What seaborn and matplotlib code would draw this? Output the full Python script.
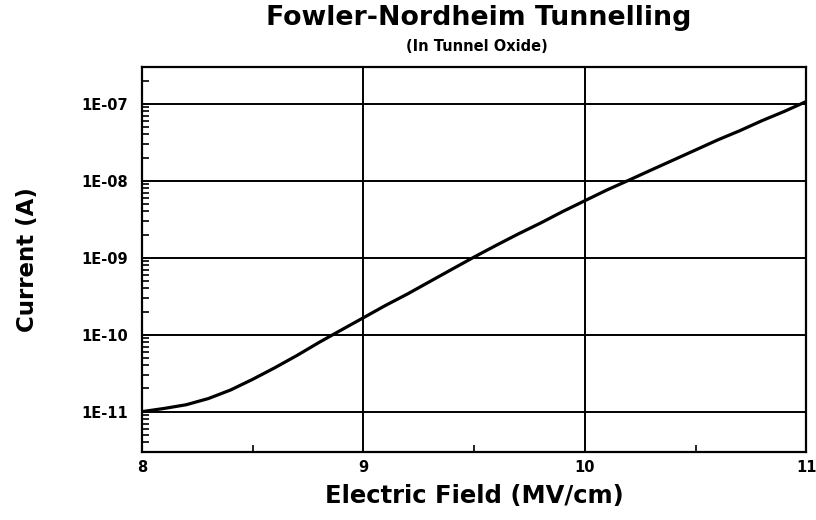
import numpy as np
import pandas as pd
import matplotlib
matplotlib.use("Agg")
import matplotlib.pyplot as plt
import matplotlib.ticker as mticker
import seaborn as sns

# Fowler-Nordheim current vs. applied field in the tunnel oxide
field_mv_cm = [8.0, 8.1, 8.2, 8.3, 8.4, 8.5, 8.6, 8.7, 8.8, 8.9,
               9.0, 9.1, 9.2, 9.3, 9.4, 9.5, 9.6, 9.7, 9.8, 9.9,
               10.0, 10.1, 10.2, 10.3, 10.4, 10.5, 10.6, 10.7, 10.8, 10.9, 11.0]
current_a = [1.00e-11, 1.10e-11, 1.23e-11, 1.48e-11, 1.91e-11, 2.63e-11,
             3.72e-11, 5.37e-11, 7.94e-11, 1.15e-10,
             1.66e-10, 2.40e-10, 3.39e-10, 4.90e-10, 7.08e-10, 1.02e-9,
             1.45e-9, 2.04e-9, 2.82e-9, 3.98e-9,
             5.50e-9, 7.59e-9, 1.02e-8, 1.38e-8, 1.86e-8, 2.51e-8,
             3.39e-8, 4.47e-8, 6.03e-8, 7.94e-8, 1.07e-7]

x_ticks = [8, 9, 10, 11]
x_tick_labels = ["8", "9", "10", "11"]
y_ticks = [1e-11, 1e-10, 1e-9, 1e-8, 1e-7]
y_tick_labels = ["1E-11", "1E-10", "1E-09", "1E-08", "1E-07"]

df = pd.DataFrame({"field": field_mv_cm, "current": current_a})

sns.set_style("white")
plt.rcParams["font.family"] = ["DejaVu Sans"]
plt.rcParams["font.weight"] = "bold"
plt.rcParams["text.color"] = "black"
plt.rcParams["axes.labelcolor"] = "black"
plt.rcParams["xtick.color"] = "black"
plt.rcParams["ytick.color"] = "black"

fig = plt.figure(figsize=(8.16, 5.2), dpi=100)
ax = fig.add_axes([0.174, 0.131, 0.814, 0.740])

sns.lineplot(data=df, x="field", y="current", ax=ax, color="black",
             linewidth=2.3, zorder=3)

ax.set_yscale("log")
ax.set_xlim(8, 11)
ax.set_ylim(3e-12, 3e-7)

ax.set_xticks(x_ticks)
ax.set_xticklabels(x_tick_labels, fontsize=10.5, fontweight="bold")
ax.set_yticks(y_ticks)
ax.set_yticklabels(y_tick_labels, fontsize=10.5, fontweight="bold")

ax.xaxis.set_minor_locator(mticker.FixedLocator([8.5, 9.5, 10.5]))
ax.yaxis.set_minor_locator(mticker.LogLocator(base=10, subs=np.arange(2, 10)))
ax.yaxis.set_minor_formatter(mticker.NullFormatter())

ax.tick_params(axis="x", which="major", length=0, pad=6)
ax.tick_params(axis="y", which="major", length=0, pad=10)
ax.tick_params(axis="x", which="minor", direction="in", length=5, width=1.2,
               bottom=True, top=False)
ax.tick_params(axis="y", which="minor", direction="in", length=5, width=1.2,
               left=True, right=False)

ax.grid(True, which="major", color="black", linewidth=1.4)
ax.grid(False, which="minor")
for side in ["left", "right", "top", "bottom"]:
    ax.spines[side].set_visible(True)
    ax.spines[side].set_color("black")
    ax.spines[side].set_linewidth(1.6)

ax.set_xlabel("Electric Field (MV/cm)", fontsize=17.5, fontweight="bold")
ax.set_ylabel("Current (A)", fontsize=16.5, fontweight="bold")
ax.xaxis.set_label_coords(0.5, -0.114)
ax.xaxis.label.set_va("center")
ax.yaxis.set_label_coords(-0.172, 0.5)
ax.yaxis.label.set_va("center")

fig.text(0.587, 0.965, "Fowler-Nordheim Tunnelling", ha="center", va="center",
         fontsize=19.3, fontweight="bold")
fig.text(0.584, 0.910, "(In Tunnel Oxide)", ha="center", va="center",
         fontsize=10.5, fontweight="bold")

fig.savefig("out.png", dpi=100)
